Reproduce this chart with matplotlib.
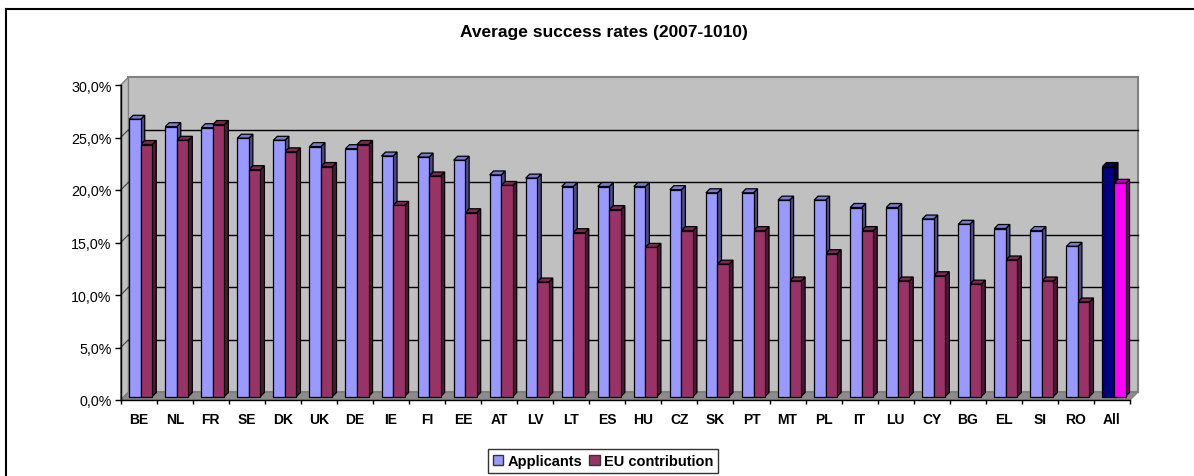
import matplotlib
matplotlib.use("Agg")
import matplotlib.pyplot as plt
from matplotlib.patches import Polygon, Patch
from matplotlib.lines import Line2D

plt.rcParams['font.family'] = ['Liberation Sans', 'DejaVu Sans']

# data (percent)
countries = ['BE', 'NL', 'FR', 'SE', 'DK', 'UK', 'DE', 'IE', 'FI', 'EE', 'AT', 'LV', 'LT', 'ES',
             'HU', 'CZ', 'SK', 'PT', 'MT', 'PL', 'IT', 'LU', 'CY', 'BG', 'EL', 'SI', 'RO', 'All']
applicants = [26.4, 25.7, 25.6, 24.6, 24.4, 23.8, 23.6, 22.9, 22.8, 22.5, 21.1, 20.8, 20.0, 20.0,
              20.0, 19.7, 19.4, 19.4, 18.7, 18.7, 18.0, 18.0, 16.9, 16.4, 16.0, 15.8, 14.3, 21.9]
eu_contribution = [24.0, 24.4, 25.9, 21.6, 23.3, 21.9, 24.0, 18.2, 21.0, 17.5, 20.1, 10.9, 15.6, 17.8,
                   14.2, 15.8, 12.6, 15.8, 11.0, 13.6, 15.8, 11.0, 11.5, 10.7, 13.0, 11.0, 9.0, 20.3]
yticks = [0, 5, 10, 15, 20, 25, 30]

W, H = 1194, 477
fig = plt.figure(figsize=(W / 100, H / 100), dpi=100)

# outer chart border (right/bottom edges are cut off in the original)
fig.add_artist(Line2D([6 / W, 1.0], [1 - 10 / H, 1 - 10 / H], color='black', lw=1.5))
fig.add_artist(Line2D([6 / W, 6 / W], [1 - 10 / H, 0.0], color='black', lw=1.5))

ax_l, ax_r, ax_t, ax_b = 120.7, 1130.0, 86.0, 401.0
ax = fig.add_axes([ax_l / W, 1 - ax_b / H, (ax_r - ax_l) / W, (ax_b - ax_t) / H])
n = len(countries)
ymax = 30
ax.set_xlim(0, n)
ax.set_ylim(0, ymax)
ax.patch.set_visible(False)

# pixel -> data units
ux = n / (ax_r - ax_l)
uy = ymax / (ax_b - ax_t)

# walls (fake 3D)
wdx, wdy = 7.7 * ux, 7.7 * uy
ax.add_patch(Polygon([(wdx, wdy), (n + wdx, wdy), (n + wdx, ymax + wdy), (wdx, ymax + wdy)],
                     closed=True, facecolor='#C0C0C0', edgecolor='#808080', lw=1.5,
                     clip_on=False, zorder=0))
ax.add_patch(Polygon([(0, 0), (wdx, wdy), (wdx, ymax + wdy), (0, ymax)],
                     closed=True, facecolor='#C0C0C0', edgecolor='#808080', lw=1,
                     clip_on=False, zorder=0))
ax.add_patch(Polygon([(0, 0), (n, 0), (n + wdx, wdy), (wdx, wdy)],
                     closed=True, facecolor='#8C8C8C', edgecolor='#808080', lw=1,
                     clip_on=False, zorder=0.5))
for v in yticks[1:-1]:
    ax.plot([wdx, n + wdx], [v + wdy, v + wdy], color='black', lw=1, zorder=1, clip_on=False)
    ax.plot([0, wdx], [v, v + wdy], color='#404040', lw=0.8, zorder=1, clip_on=False)

# bars
w = 0.32
bdx, bdy = 2.0 * ux, 3.5 * uy   # bar position inside the depth
ddx, ddy = 4.0 * ux, 4.0 * uy   # bar depth
styles = {
    'app': ('#9999FF', '#7A7ACC', '#4D4D85'),
    'eu': ('#993366', '#7A2952', '#4D1A33'),
    'app_all': ('#000080', '#000060', '#000040'),
    'eu_all': ('#FF00FF', '#C000C0', '#800080'),
}


def draw_bar(x0, v, key):
    front, top, side = styles[key]
    x0 = x0 + bdx
    ax.add_patch(Polygon([(x0 + w, bdy), (x0 + w + ddx, bdy + ddy), (x0 + w + ddx, v + bdy + ddy),
                          (x0 + w, v + bdy)], closed=True, facecolor=side, edgecolor='black',
                         lw=0.9, zorder=2, clip_on=False))
    ax.add_patch(Polygon([(x0, v + bdy), (x0 + w, v + bdy), (x0 + w + ddx, v + bdy + ddy),
                          (x0 + ddx, v + bdy + ddy)], closed=True, facecolor=top, edgecolor='black',
                         lw=0.9, zorder=2, clip_on=False))
    ax.bar(x0, v, width=w, bottom=bdy, align='edge', color=front, edgecolor='black',
           lw=0.9, zorder=3, clip_on=False)


for i, (c, a, e) in enumerate(zip(countries, applicants, eu_contribution)):
    suffix = '_all' if c == 'All' else ''
    draw_bar(i + 0.5 - w, a, 'app' + suffix)
    draw_bar(i + 0.5, e, 'eu' + suffix)

# axes
for s in ['top', 'right']:
    ax.spines[s].set_visible(False)
for s in ['left', 'bottom']:
    ax.spines[s].set_color('black')
    ax.spines[s].set_linewidth(1)
    ax.spines[s].set_zorder(4)

ax.set_yticks(yticks)
ax.set_yticklabels([f"{v:.1f}%".replace('.', ',') for v in yticks], fontsize=10.3)
ax.tick_params(axis='y', direction='out', length=4.5, width=1, pad=2)

ax.set_xticks(range(n + 1))
ax.set_xticklabels([])
ax.set_xticks([i + 0.5 for i in range(n)], minor=True)
ax.set_xticklabels(countries, minor=True, fontsize=10, fontweight='bold')
ax.tick_params(axis='x', which='major', direction='out', length=3, width=1)
ax.tick_params(axis='x', which='minor', length=0, pad=8.5)

fig.text(604 / W, 1 - 33 / H, 'Average success rates (2007-1010)', ha='center', va='center',
         fontsize=12.5, fontweight='bold')

handles = [Patch(facecolor=styles['app'][0], edgecolor='#333333'),
           Patch(facecolor=styles['eu'][0], edgecolor='#333333')]
leg = fig.legend(handles, ['Applicants', 'EU contribution'], loc='center',
                 bbox_to_anchor=(603 / W, 15 / H), ncol=2, frameon=True, fancybox=False,
                 edgecolor='black', prop={'weight': 'bold', 'size': 10.5},
                 handlelength=0.7, handleheight=0.7, handletextpad=0.3, columnspacing=0.5,
                 borderpad=0.35, borderaxespad=0)
leg.get_frame().set_linewidth(1)

fig.savefig('out.png', dpi=100)
